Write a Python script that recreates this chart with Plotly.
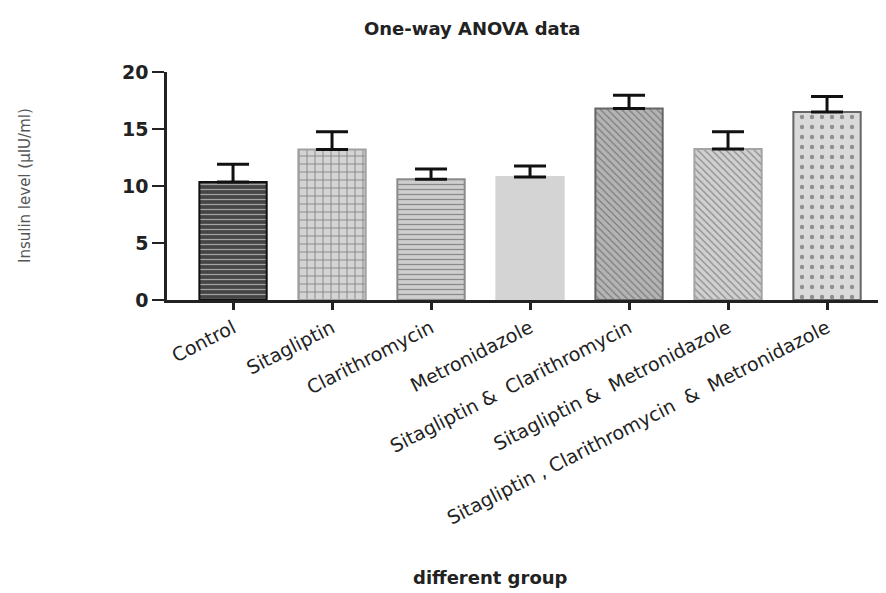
import plotly.graph_objects as go

groups = ["Control", "Sitagliptin", "Clarithromycin", "Metronidazole",
          "Sitagliptin &  Clarithromycin", "Sitagliptin &  Metronidazole",
          "Sitagliptin , Clarithromycin  &  Metronidazole"]
means = [10.35, 13.2, 10.6, 10.8, 16.8, 13.25, 16.5]
sem = [1.55, 1.55, 0.9, 0.95, 1.15, 1.5, 1.35]
y_ticks = [0, 5, 10, 15, 20]

shapes = ["-", "+", "-", "", "\\", "\\", "."]
bg_cols = ["#454545", "#d4d4d4", "#cecece", "#d4d4d4", "#b4b4b4", "#d0d0d0", "#dadada"]
fg_cols = ["#a0a0a0", "#b2b2b2", "#a6a6a6", "#d4d4d4", "#747474", "#a8a8a8", "#c2c2c2"]
line_cols = ["#111111", "#a0a0a0", "#8a8a8a", "#d4d4d4", "#666666", "#a4a4a4", "#666666"]
pat_sizes = [5, 8, 5, 6, 5, 5, 10]
solidity = [0.25, 0.25, 0.25, 0.25, 0.25, 0.25, 0.15]

# page has an 8px body margin; shift the figure up/left to compensate
OFF = 8
PX_L, PX_R, PX_T, PX_B = 167, 880, 72, 300  # plot area in page pixels
W, H = 886 - OFF, 593 - OFF
PW, PH = PX_R - PX_L, PX_B - PX_T


def px(x):
    return (x - PX_L) / PW


def py(y):
    return (PX_B - y) / PH


fig = go.Figure()
fig.add_trace(go.Bar(
    x=list(range(len(groups))),
    y=means,
    marker=dict(
        color=bg_cols,
        line=dict(color=line_cols, width=2),
        pattern=dict(shape=shapes, fgcolor=fg_cols, bgcolor=bg_cols,
                     size=pat_sizes, solidity=solidity, fillmode="overlay"),
    ),
    error_y=dict(type="data", array=sem, arrayminus=[0] * len(sem),
                 symmetric=False, color="#111111", thickness=3, width=16),
    width=0.68,
    hoverinfo="skip",
))

fig.update_layout(
    width=W, height=H, autosize=False,
    margin=dict(l=PX_L - OFF, r=W - (PX_R - OFF), t=PX_T - OFF, b=H - (PX_B - OFF)),
    paper_bgcolor="white", plot_bgcolor="white",
    showlegend=False,
    font=dict(family="DejaVu Sans", color="#222222"),
    xaxis=dict(
        range=[-0.667, 6.535], automargin=False,
        tickmode="array", tickvals=list(range(len(groups))), ticktext=groups,
        tickangle=-27, tickfont=dict(family="DejaVu Sans", size=19, color="#222222"),
        showline=True, linecolor="#222222", linewidth=2.5,
        ticks="outside", ticklen=7, tickwidth=3, tickcolor="#222222",
        showgrid=False, zeroline=False,
    ),
    yaxis=dict(
        range=[0, 20], automargin=False, tickmode="array", tickvals=y_ticks,
        ticktext=[str(v) for v in y_ticks],
        tickfont=dict(family="DejaVu Sans", size=19, color="#222222", weight="bold"),
        showline=True, linecolor="#222222", linewidth=2.5,
        ticks="outside", ticklen=12, tickwidth=2, tickcolor="#222222",
        showgrid=False, zeroline=False,
    ),
    annotations=[
        dict(text="One-way ANOVA data", xref="paper", yref="paper",
             x=px(472), y=py(29), xanchor="center", yanchor="middle", showarrow=False,
             font=dict(family="DejaVu Sans", size=18, color="#222222", weight="bold")),
        dict(text="different group", xref="paper", yref="paper",
             x=px(490), y=py(577), xanchor="center", yanchor="middle",
             showarrow=False,
             font=dict(family="DejaVu Sans", size=18, color="#222222", weight="bold")),
        dict(text="Insulin level (µIU/ml)", xref="paper", yref="paper",
             x=px(25), y=py(186), xanchor="center", yanchor="middle",
             textangle=-90, showarrow=False,
             font=dict(family="DejaVu Sans", size=15, color="#555555")),
    ],
)

fig.write_html("out.html")
